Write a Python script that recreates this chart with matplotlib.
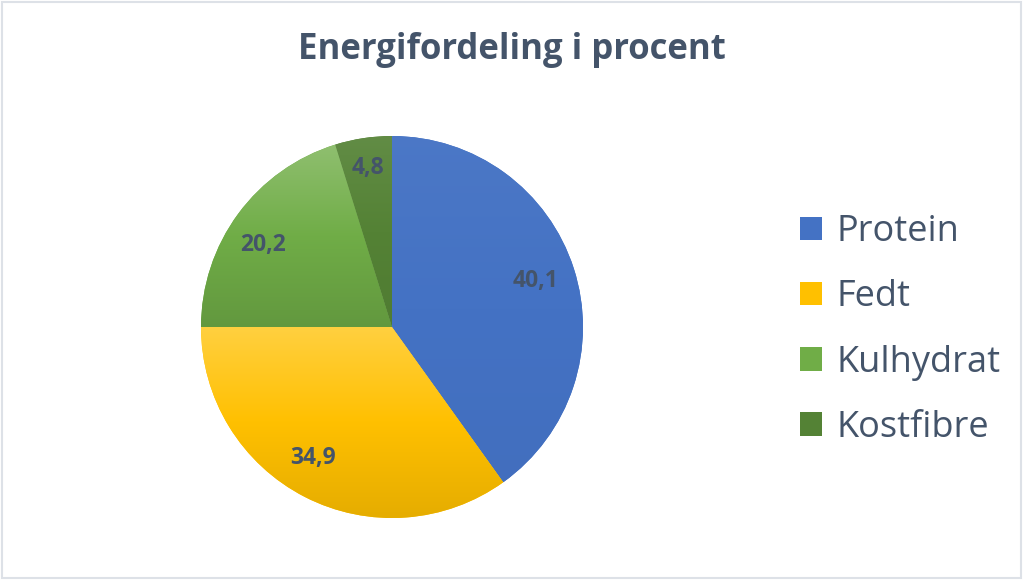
import numpy as np
import matplotlib
matplotlib.use("Agg")
import matplotlib.pyplot as plt
from matplotlib.patches import Rectangle, Patch
from matplotlib.colors import LinearSegmentedColormap, to_rgb

categories = ["Protein", "Fedt", "Kulhydrat", "Kostfibre"]
values = [40.1, 34.9, 20.2, 4.8]
value_labels = ["40,1", "34,9", "20,2", "4,8"]
title = "Energifordeling i procent"

base_colors = ["#4472C4", "#FFC000", "#70AD47", "#548235"]
text_color = "#44546A"
FONT = "Open Sans"

W, H = 1024, 582
fig = plt.figure(figsize=(W / 100, H / 100), dpi=100)
fig.patch.set_facecolor("white")

# pie axes positioned to the pie bounding box
cx, cy, r = 392, 327, 191
ax = fig.add_axes([(cx - r) / W, (H - cy - r) / H, 2 * r / W, 2 * r / H])
wedges, _ = ax.pie(values, colors=base_colors, startangle=90, counterclock=False,
                   radius=1.0, wedgeprops=dict(linewidth=0))
ax.set_xlim(-1, 1)
ax.set_ylim(-1, 1)
ax.set_aspect("equal")
ax.axis("off")


def grad_cmap(c, light=0.22, dark=0.9):
    c = np.array(to_rgb(c))
    top = c + (1 - c) * light
    bot = c * dark
    return LinearSegmentedColormap.from_list("g", [bot, c, top])


light_amt = [0.04, 0.25, 0.22, 0.08]
dark_amt = [0.97, 0.9, 0.88, 0.95]
for w, col, la, da in zip(wedges, base_colors, light_amt, dark_amt):
    bb = w.get_path().get_extents(w.get_transform() + ax.transData.inverted())
    grad = np.linspace(0, 1, 256).reshape(-1, 1)
    im = ax.imshow(grad, cmap=grad_cmap(col, la, da), origin="lower",
                   extent=[bb.x0, bb.x1, bb.y0, bb.y1], aspect="auto", zorder=2,
                   interpolation="bicubic")
    im.set_clip_path(w)
ax.set_xlim(-1, 1)
ax.set_ylim(-1, 1)

# data labels (distance from centre, small angular nudge in degrees)
label_dist = [0.79, 0.80, 0.80, 0.84]
label_nudge = [0, -4, 4, 0]
for w, lab, d, nd in zip(wedges, value_labels, label_dist, label_nudge):
    ang = np.deg2rad((w.theta1 + w.theta2) / 2 + nd)
    ax.text(d * np.cos(ang), d * np.sin(ang), lab, ha="center", va="center",
            fontsize=16.5, fontweight="bold", color=text_color, family=FONT, zorder=5)

fig.text(0.5, 1 - 50 / H, title, ha="center", va="center", fontsize=25,
         fontweight="bold", color=text_color, family=FONT)

handles = [Patch(facecolor=c, edgecolor="none") for c in base_colors]
leg = fig.legend(handles, categories, loc="center left",
                 bbox_to_anchor=(800 / W, 1 - 330 / H), frameon=False,
                 prop=dict(family=FONT, size=26), labelcolor=text_color,
                 handlelength=0.62, handleheight=0.62, handletextpad=0.38,
                 labelspacing=0.81, borderpad=0, borderaxespad=0)

fig.patches.append(Rectangle((1.5 / W, 4 / H), 1 - 5 / W, 1 - 6 / H,
                             transform=fig.transFigure, fill=False,
                             edgecolor="#DDE1E7", linewidth=1.5))

fig.savefig("out.png", dpi=100, facecolor="white")
